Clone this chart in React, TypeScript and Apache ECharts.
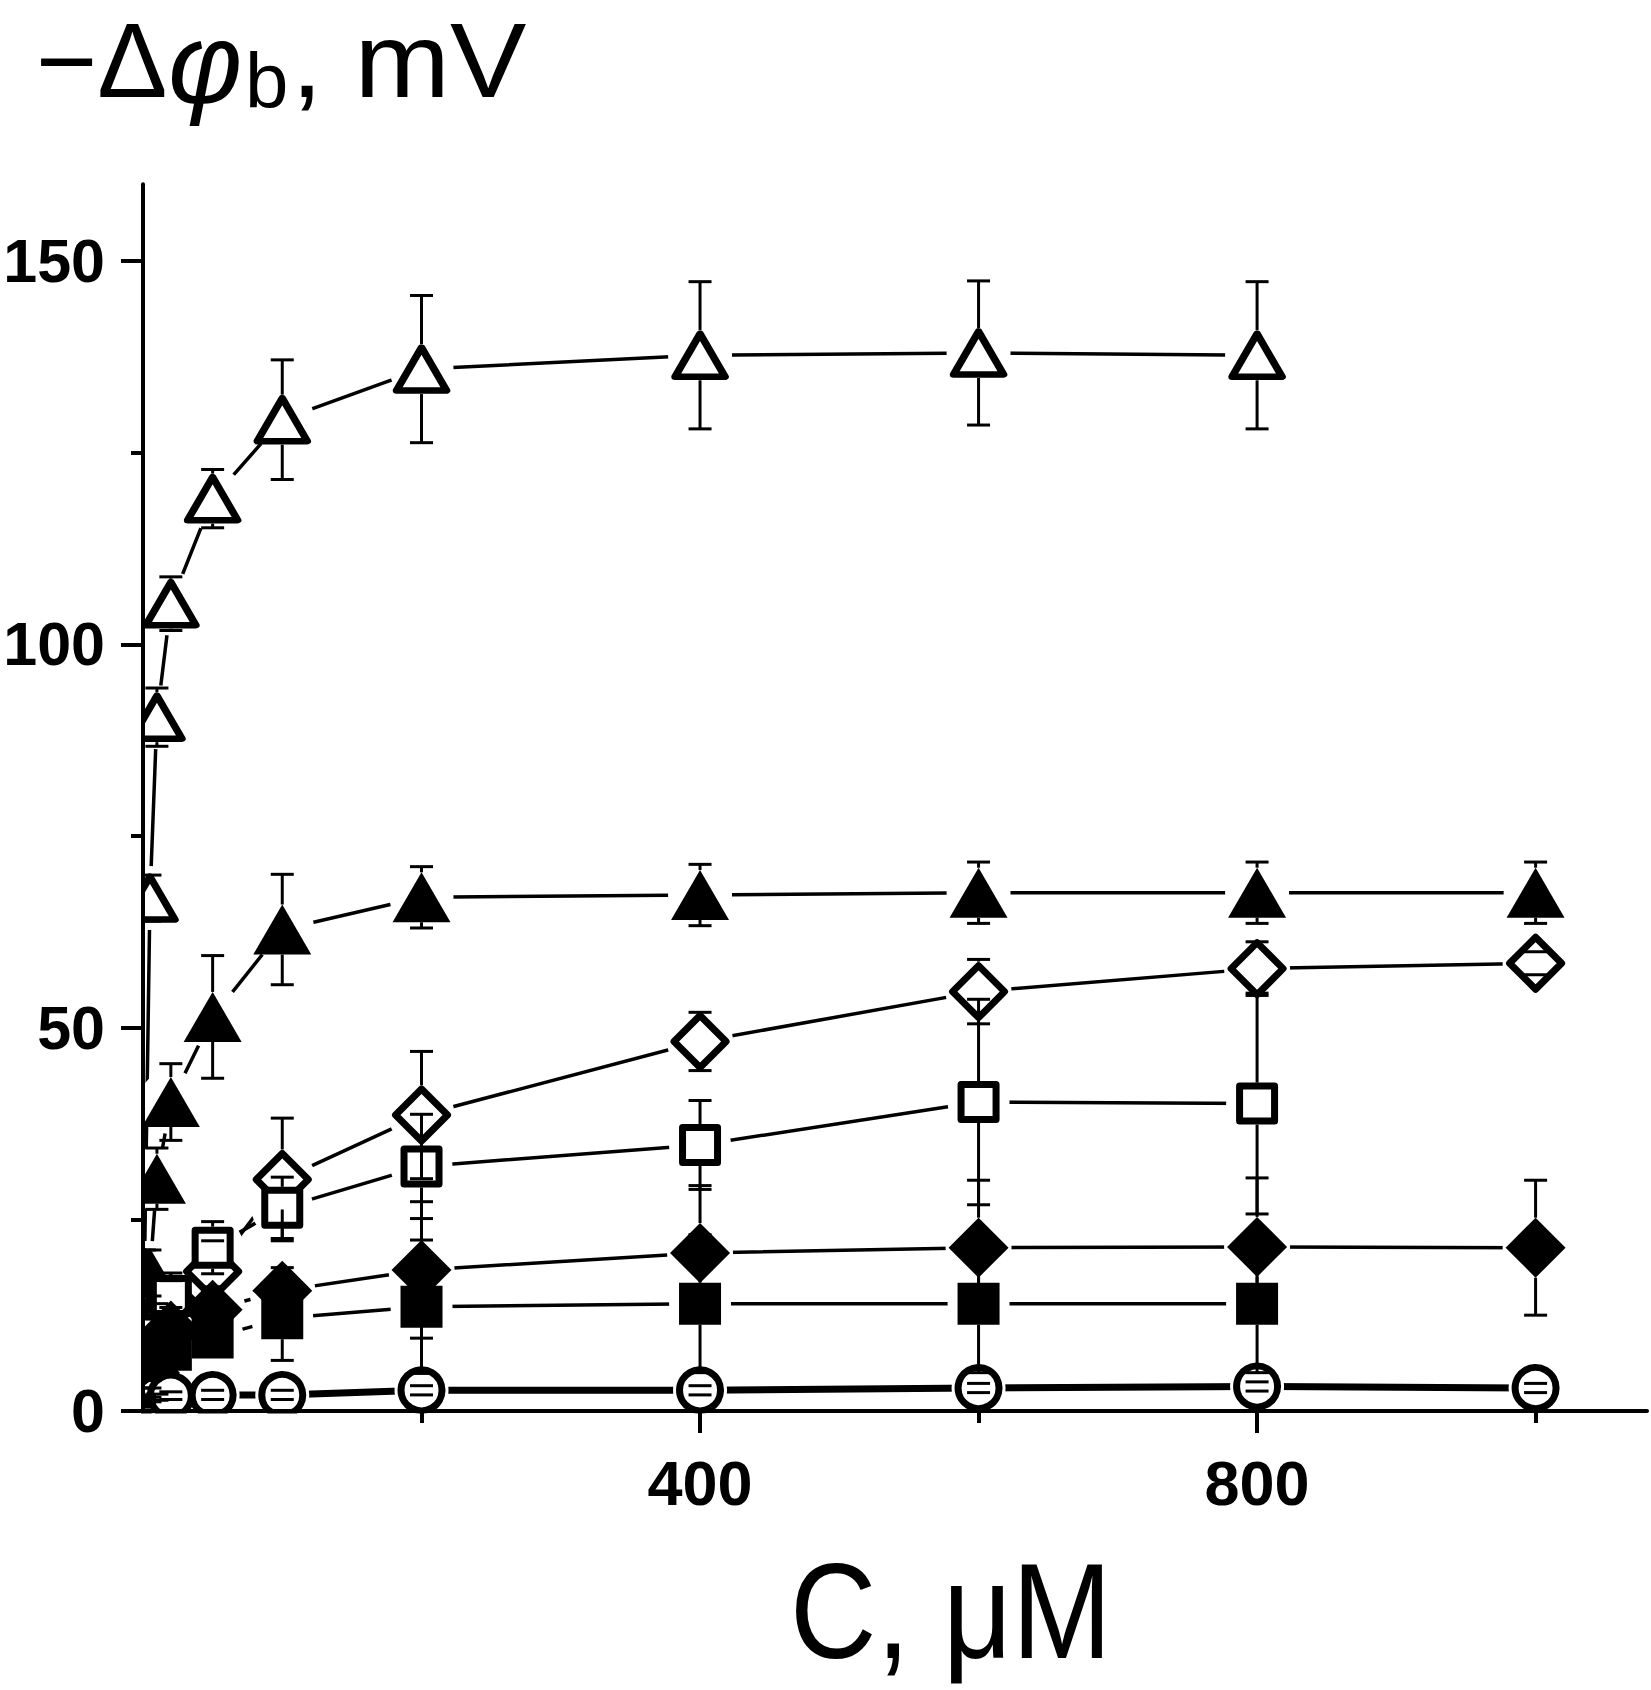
import React, { useEffect, useRef } from "react";
import * as echarts from "echarts";

// ---------- data ----------
const openTriangleX = [1, 5, 10, 20, 50, 100, 200, 400, 600, 800];
const openTriangleY = [18, 66.9, 90.5, 105.3, 119.0, 129.3, 135.9, 137.7, 138.0, 137.7];
const openTriangleErr = [3, 3, 3.8, 3.5, 3.8, 7.8, 9.6, 9.6, 9.4, 9.6];

const filledTriangleX = [1, 5, 10, 20, 50, 100, 200, 400, 600, 800, 1000];
const filledTriangleY = [6, 18, 30.3, 40.3, 51.4, 62.8, 67.0, 67.3, 67.6, 67.6, 67.6];
const filledTriangleErr = [2, 3, 4, 5, 8, 7.2, 4, 4, 4, 4, 4];

const openDiamondX = [1, 5, 10, 20, 50, 100, 200, 400, 600, 800, 1000];
const openDiamondY = [3, 8, 11, 14, 18.2, 30.2, 38.6, 48.2, 54.7, 57.7, 58.4];
const openDiamondErr = [1, 2, 3, 3, 4, 8, 8.3, 3.8, 4.2, 3.5, 1.5];

const openSquareX = [1, 5, 10, 20, 50, 100, 200, 400, 600, 800];
const openSquareY = [2, 6, 10, 15, 21.3, 26.5, 31.9, 34.7, 40.3, 40.1];
const openSquareErr = [1, 2, 2, 3, 3.4, 4, 6.8, 5.8, 13.4, 14.4];

const filledDiamondX = [1, 5, 10, 20, 50, 100, 200, 400, 600, 800, 1000];
const filledDiamondY = [1.5, 5, 8, 10.5, 13.2, 15.7, 18.4, 20.6, 21.3, 21.4, 21.3];
const filledDiamondErr = [0.5, 1, 2, 3, 3, 3, 8.9, 8.8, 8.8, 9, 8.8];

const filledSquareX = [1, 5, 10, 20, 50, 100, 200, 400, 600, 800];
const filledSquareY = [1, 4, 6, 8, 9.6, 12.1, 13.6, 14.0, 14.0, 14.0];
const filledSquareErr = [0.5, 1, 1.5, 2, 2, 5.5, 8.7, 9, 9, 9];

const openCircleX = [1, 5, 10, 20, 50, 100, 200, 400, 600, 800, 1000];
const openCircleY = [1, 1.5, 1.8, 2.0, 2.1, 2.1, 2.7, 2.7, 3.0, 3.2, 3.0];
const openCircleErr = [0.3, 0.3, 0.4, 0.5, 0.6, 0.6, 0.6, 0.6, 0.6, 0.6, 0.6];

const xMajorTicks = [400, 800];
const xMinorTicks = [200, 600, 1000];
const yMajorTicks = [0, 50, 100, 150];
const yMinorTicks = [25, 75, 125];

// ---------- styles ----------
const FONT = '"Liberation Sans", Arial, Helvetica, sans-serif';

type Def = {
  key: string;
  xs: number[];
  ys: number[];
  errs: number[];
  symbol: string;
  size: number | number[];
  filled: boolean;
  half: number;
  halo: number;
  lineWidth: number;
};

const DEFS: Def[] = [
  { key: "openTri", xs: openTriangleX, ys: openTriangleY, errs: openTriangleErr, symbol: "triangle", size: [50, 43], filled: false, half: 25, halo: 64, lineWidth: 3.5 },
  { key: "fillTri", xs: filledTriangleX, ys: filledTriangleY, errs: filledTriangleErr, symbol: "triangle", size: [58, 50], filled: true, half: 25, halo: 64, lineWidth: 3.5 },
  { key: "openDia", xs: openDiamondX, ys: openDiamondY, errs: openDiamondErr, symbol: "diamond", size: 52, filled: false, half: 30, halo: 66, lineWidth: 3.5 },
  { key: "openSq", xs: openSquareX, ys: openSquareY, errs: openSquareErr, symbol: "rect", size: 35, filled: false, half: 21, halo: 62, lineWidth: 3.5 },
  { key: "fillDia", xs: filledDiamondX, ys: filledDiamondY, errs: filledDiamondErr, symbol: "diamond", size: 60, filled: true, half: 30, halo: 66, lineWidth: 3.5 },
  { key: "fillSq", xs: filledSquareX, ys: filledSquareY, errs: filledSquareErr, symbol: "rect", size: 42, filled: true, half: 21, halo: 62, lineWidth: 3.5 },
  { key: "openCirc", xs: openCircleX, ys: openCircleY, errs: openCircleErr, symbol: "circle", size: 41, filled: false, half: 24, halo: 54, lineWidth: 7 },
];

function buildOption() {
  const series: any[] = [];
  // connecting lines
  DEFS.forEach((d) => {
    series.push({
      type: "line",
      name: d.key + "-line",
      data: d.xs.map((x, i) => [x, d.ys[i]]),
      symbol: "none",
      showSymbol: false,
      silent: true,
      z: 2,
      lineStyle: { color: "#000", width: d.lineWidth, opacity: 1 },
    });
  });
  // white halos (gap between line and marker)
  DEFS.forEach((d) => {
    series.push({
      type: "scatter",
      name: d.key + "-halo",
      data: d.xs.map((x, i) => [x, d.ys[i]]),
      symbol: "circle",
      symbolSize: d.halo,
      silent: true,
      z: 3,
      itemStyle: { color: "#fff", borderWidth: 0, opacity: 1 },
    });
  });
  // markers
  DEFS.forEach((d) => {
    series.push({
      type: "scatter",
      name: d.key,
      data: d.xs.map((x, i) => [x, d.ys[i]]),
      symbol: d.symbol,
      symbolSize: d.size,
      silent: true,
      z: 4,
      itemStyle: d.filled
        ? { color: "#000", borderWidth: 0, opacity: 1 }
        : { color: "#fff", borderColor: "#000", borderWidth: 7, borderJoin: "round", opacity: 1 },
    });
  });
  // error bars
  DEFS.forEach((d) => {
    series.push({
      type: "custom",
      name: d.key + "-err",
      data: d.xs.map((x, i) => [x, d.ys[i], d.errs[i], d.half]),
      encode: { x: 0, y: 1 },
      silent: true,
      z: 5,
      renderItem: (params: any, api: any) => {
        const x = api.value(0);
        const y = api.value(1);
        const e = api.value(2);
        const h = api.value(3);
        const c = api.coord([x, y]);
        const t = api.coord([x, y + e]);
        const b = api.coord([x, y - e]);
        const cw = 11.5;
        const style = { stroke: "#000", lineWidth: 3, fill: "none" };
        const children: any[] = [];
        if (c[1] - t[1] > h) {
          children.push({ type: "line", shape: { x1: c[0], y1: c[1] - h, x2: c[0], y2: t[1] }, style });
        }
        children.push({ type: "line", shape: { x1: c[0] - cw, y1: t[1], x2: c[0] + cw, y2: t[1] }, style });
        if (b[1] - c[1] > h) {
          children.push({ type: "line", shape: { x1: c[0], y1: c[1] + h, x2: c[0], y2: b[1] }, style });
        }
        children.push({ type: "line", shape: { x1: c[0] - cw, y1: b[1], x2: c[0] + cw, y2: b[1] }, style });
        return { type: "group", children };
      },
    });
  });

  const axisLineStyle = { color: "#000", width: 4 };

  return {
    animation: false,
    backgroundColor: "#fff",
    grid: { left: 143, right: 4, top: 184.3, bottom: 279, containLabel: false },
    xAxis: [
      {
        type: "value",
        min: 0,
        max: 1080,
        position: "bottom",
        z: 50,
        axisLine: { show: true, lineStyle: axisLineStyle },
        axisTick: { show: true, inside: false, length: 22, lineStyle: axisLineStyle, customValues: xMajorTicks },
        axisLabel: {
          show: true,
          customValues: xMajorTicks,
          fontSize: 63,
          fontWeight: "bold",
          fontFamily: FONT,
          color: "#000",
          margin: 40,
        },
        splitLine: { show: false },
      },
      {
        type: "value",
        min: 0,
        max: 1080,
        position: "bottom",
        z: 50,
        axisLine: { show: false },
        axisTick: { show: true, inside: false, length: 12, lineStyle: axisLineStyle, customValues: xMinorTicks },
        axisLabel: { show: false, customValues: xMinorTicks },
        splitLine: { show: false },
      },
    ],
    yAxis: [
      {
        type: "value",
        min: 0,
        max: 160,
        position: "left",
        z: 50,
        axisLine: { show: true, lineStyle: axisLineStyle },
        axisTick: { show: true, inside: false, length: 22, lineStyle: axisLineStyle, customValues: yMajorTicks },
        axisLabel: {
          show: true,
          customValues: yMajorTicks,
          fontSize: 61,
          fontWeight: "bold",
          fontFamily: FONT,
          color: "#000",
          margin: 38,
        },
        splitLine: { show: false },
      },
      {
        type: "value",
        min: 0,
        max: 160,
        position: "left",
        z: 50,
        axisLine: { show: false },
        axisTick: { show: true, inside: false, length: 12, lineStyle: axisLineStyle, customValues: yMinorTicks },
        axisLabel: { show: false, customValues: yMinorTicks },
        splitLine: { show: false },
      },
    ],
    graphic: [
      // clip markers at the axes, as in the reference
      { type: "rect", silent: true, z: 40, shape: { x: 0, y: 150, width: 141, height: 1275 }, style: { fill: "#fff" } },
      { type: "rect", silent: true, z: 40, shape: { x: 0, y: 1413.5, width: 1651, height: 277 }, style: { fill: "#fff" } },
      // y-axis title: −Δφb, mV
      { type: "text", z: 60, x: 36, y: 60.6, style: { text: "\u2212\u0394", font: `105px ${FONT}`, fill: "#000", textAlign: "left", textVerticalAlign: "middle" } },
      { type: "text", z: 60, x: 168, y: 62, style: { text: "\u03C6", font: `italic 114px ${FONT}`, fill: "#000", textAlign: "left", textVerticalAlign: "middle" } },
      { type: "text", z: 60, x: 245, y: 80.5, style: { text: "b", font: `78px ${FONT}`, fill: "#000", textAlign: "left", textVerticalAlign: "middle" } },
      { type: "text", z: 60, x: 291, y: 60.3, scaleX: 1.08, style: { text: ", mV", font: `106px ${FONT}`, fill: "#000", textAlign: "left", textVerticalAlign: "middle" } },
      // x-axis title
      { type: "text", z: 60, x: 790, y: 1611, scaleX: 0.88, style: { text: "C, \u03BCM", font: `136px ${FONT}`, fill: "#000", textAlign: "left", textVerticalAlign: "middle" } },
    ],
    series,
  };
}

export default function App() {
  const ref = useRef<HTMLDivElement>(null);
  useEffect(() => {
    if (!ref.current) return;
    const chart = echarts.init(ref.current, undefined, { renderer: "svg" });
    chart.setOption(buildOption() as any);
    return () => chart.dispose();
  }, []);
  return (
    <div
      ref={ref}
      style={{ position: "absolute", left: 0, top: 0, width: 1651, height: 1690, background: "#fff" }}
    />
  );
}
